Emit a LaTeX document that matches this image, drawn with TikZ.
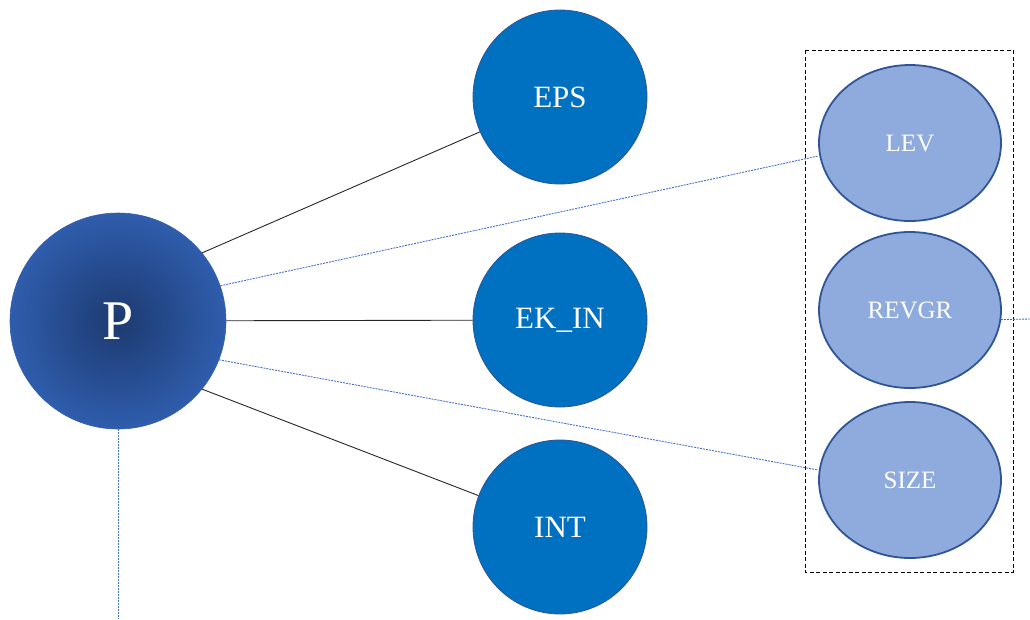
\documentclass[tikz,border=0pt]{standalone}
\usepackage{fontspec}
\setmainfont{Liberation Serif}
\definecolor{hubouter}{HTML}{2F5DAC}
\definecolor{hubinner}{HTML}{1D3A70}
\definecolor{nodeblue}{HTML}{0070C0}
\definecolor{edgeblue}{HTML}{2F5597}
\definecolor{lightblue}{HTML}{8FAADC}
\definecolor{linkblue}{HTML}{4472C4}
\tikzset{
  hub/.style={circle, minimum size=216pt, inner sep=0pt, draw=hubouter, line width=0.6pt,
    shading=radial, inner color=hubinner, outer color=hubouter,
    text=white, font=\fontsize{56}{56}\selectfont},
  core/.style={circle, minimum size=174pt, inner sep=0pt, fill=nodeblue, draw=edgeblue,
    line width=0.8pt, text=white, font=\fontsize{31}{31}\selectfont},
  extra/.style={ellipse, minimum width=182pt, minimum height=156pt, inner sep=0pt,
    fill=lightblue, draw=edgeblue, line width=1.8pt, text=white,
    font=\fontsize{25}{25}\selectfont},
  solidlink/.style={draw=black!85, line width=0.9pt},
  dotlink/.style={draw=linkblue, line width=0.9pt, dash pattern=on 2pt off 1pt},
  groupbox/.style={draw=black, line width=1pt, dash pattern=on 4pt off 2.5pt}
}
\usetikzlibrary{shapes.geometric}
\begin{document}
\begin{tikzpicture}[x=1pt, y=-1pt]
  \useasboundingbox (0,0) rectangle (1030,619);

  % group frame around the light nodes
  \draw[groupbox] (805,50) rectangle (1013,572);

  % nodes
  \node[hub]  (P)     at (118,321) {P};
  \node[core] (EPS)   at (560,97)  {EPS};
  \node[core] (EKIN)  at (560,320) {EK\_IN};
  \node[core] (INT)   at (560,527) {INT};
  \node[extra] (LEV)   at (910,143) {LEV};
  \node[extra] (REVGR) at (910,310) {REVGR};
  \node[extra] (SIZE)  at (910,480) {SIZE};

  % free ends of the open links
  \coordinate (rightend) at (1030,319);
  \coordinate (bottomend) at (118,619);

  % solid links
  \draw[solidlink] (P.39) -- (EPS);
  \draw[solidlink] (P) -- (EKIN);
  \draw[solidlink] (P.-39) -- (INT);

  % dotted links
  \draw[dotlink] (P.19) -- (LEV.west |- 0,156);
  \draw[dotlink] (P.-21) -- (SIZE.west |- 0,470);
  \draw[dotlink] (REVGR.-6) -- (rightend);
  \draw[dotlink] (P.south) -- (bottomend);
\end{tikzpicture}
\end{document}
